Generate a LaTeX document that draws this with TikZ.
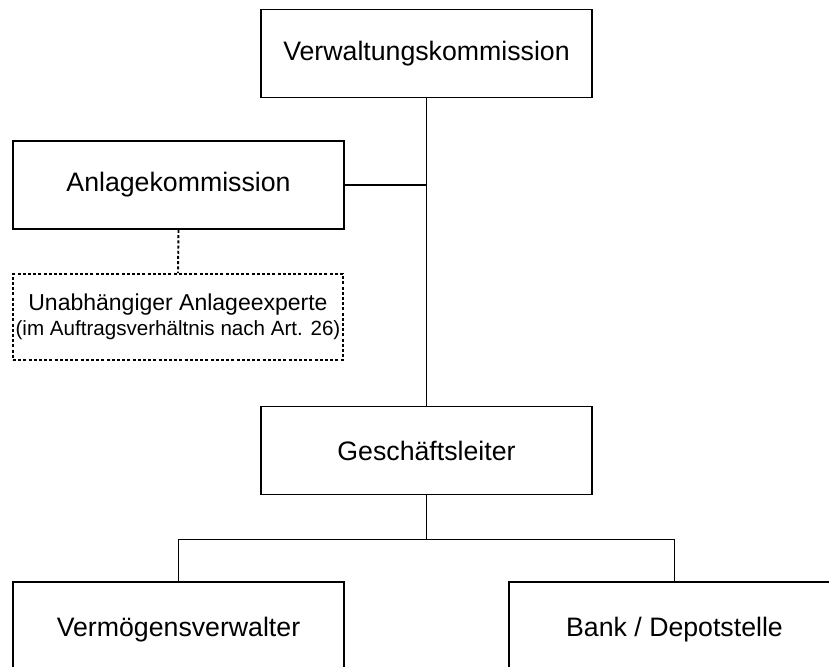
\documentclass[tikz,border=0pt]{standalone}
\usepackage{fontspec}
\setmainfont{Liberation Sans}
\begin{document}
\begin{tikzpicture}[x=1pt,y=-1pt,
  box/.style={draw,line width=1.9pt,rectangle,minimum width=331pt,minimum height=88pt,inner sep=0pt,font=\fontsize{26.7}{32}\selectfont},
  dbox/.style={draw,line width=1.9pt,dash pattern=on 3pt off 2.2pt,rectangle,minimum width=330pt,minimum height=86pt,inner sep=0pt,align=center,font=\fontsize{20.6}{25}\selectfont},
  conn/.style={line width=1.9pt},
  dconn/.style={line width=1.9pt,dash pattern=on 3pt off 2.2pt}]
\useasboundingbox (0,0) rectangle (829,666);
\clip (0,0) rectangle (829,666);
\node[box] (vk) at (426.5,53.5) {Verwaltungskommission};
\node[box] (ak) at (178.5,185) {Anlagekommission};
\node[dbox] (ue) at (178,317) {{\fontsize{23}{25}\selectfont Unabhängiger Anlageexperte}\\(im Auftragsverhältnis nach Art. 26)};
\node[box] (gl) at (426.5,450.5) {Geschäftsleiter};
\node[box,minimum height=96pt] (vv) at (178.5,630) {Vermögensverwalter};
\node[box,minimum height=96pt] (bd) at (674.5,630) {Bank / Depotstelle};
\draw[conn] (vk.south) -- (gl.north);
\draw[conn] (ak.east) -- (ak.east -| vk.south);
\draw[dconn] (ak.south) -- (ue.north);
\draw[conn] (gl.south) -- ++(0,44) -| (vv.north);
\draw[conn] (gl.south) -- ++(0,44) -| (bd.north);
\end{tikzpicture}
\end{document}
